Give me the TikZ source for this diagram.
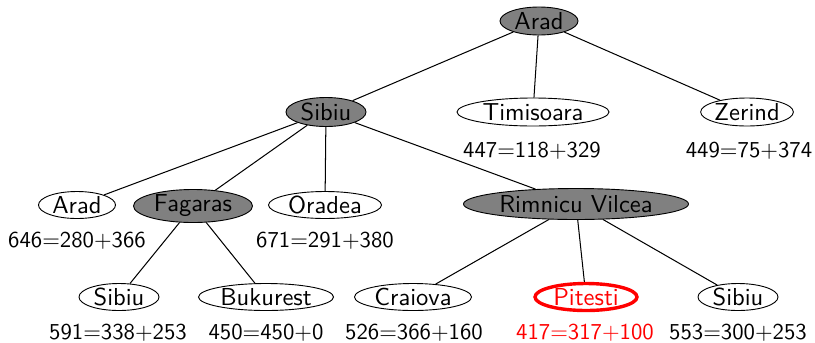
\documentclass[tikz,border=0pt]{standalone}
\usetikzlibrary{shapes.geometric}
\begin{document}
\begin{tikzpicture}[x=0.44pt,y=-0.44pt,
  city/.style={ellipse,draw=black,fill=white,inner sep=0pt,font=\sffamily\fontsize{10.8}{13}\selectfont},
  sz/.style 2 args={minimum width=#1*0.44pt,minimum height=#2*0.44pt},
  expanded/.style={city,fill=black!50},
  chosen/.style={city,draw=red,line width=1.5pt,text=red},
  cost/.style={font=\sffamily,inner sep=0pt},
  edge/.style={draw=black,line width=0.45pt}]
\useasboundingbox (0,0) rectangle (815,342);
% nodes
\node[expanded,sz={78}{28}] (A0) at (539,21) {Arad};
\node[expanded,sz={80}{29}] (S1) at (326,112) {Sibiu};
\node[city,sz={152}{28}] (T) at (533,112) {Timisoara};
\node[city,sz={90}{28}] (Z) at (747,112) {Zerind};
\node[city,sz={77}{27}] (A2) at (77,205) {Arad};
\node[expanded,sz={119}{33}] (F) at (193,206) {Fagaras};
\node[city,sz={113}{27}] (O) at (325,205) {Oradea};
\node[expanded,sz={225}{31}] (R) at (576,204) {Rimnicu Vilcea};
\node[city,sz={80}{27}] (S3) at (119,297) {Sibiu};
\node[city,sz={135}{27}] (B) at (266,297) {Bukurest};
\node[city,sz={117}{27}] (C) at (413,297) {Craiova};
\node[chosen,sz={102}{27}] (P) at (586,297) {Pitesti};
\node[city,sz={80}{27}] (S4) at (738,297) {Sibiu};
% cost labels
\node[cost] (lT) at (532,151) {447=118+329};
\node[cost] (lZ) at (749,151) {449=75+374};
\node[cost] (lA2) at (77,241) {646=280+366};
\node[cost] (lO) at (325,241) {671=291+380};
\node[cost] (lS3) at (118,333) {591=338+253};
\node[cost] (lB) at (266,333) {450=450+0};
\node[cost] (lC) at (414,333) {526=366+160};
\node[cost,text=red] (lP) at (585,333) {417=317+100};
\node[cost] (lS4) at (738,333) {553=300+253};
% edges
\draw[edge] (A0) -- (S1);
\draw[edge] (A0) -- (T);
\draw[edge] (A0) -- (Z);
\draw[edge] (S1) -- (A2);
\draw[edge] (S1) -- (F);
\draw[edge] (S1) -- (O);
\draw[edge] (S1) -- (R);
\draw[edge] (F) -- (S3);
\draw[edge] (F) -- (B);
\draw[edge] (R) -- (C);
\draw[edge] (R) -- (P);
\draw[edge] (R) -- (S4);
\end{tikzpicture}
\end{document}
